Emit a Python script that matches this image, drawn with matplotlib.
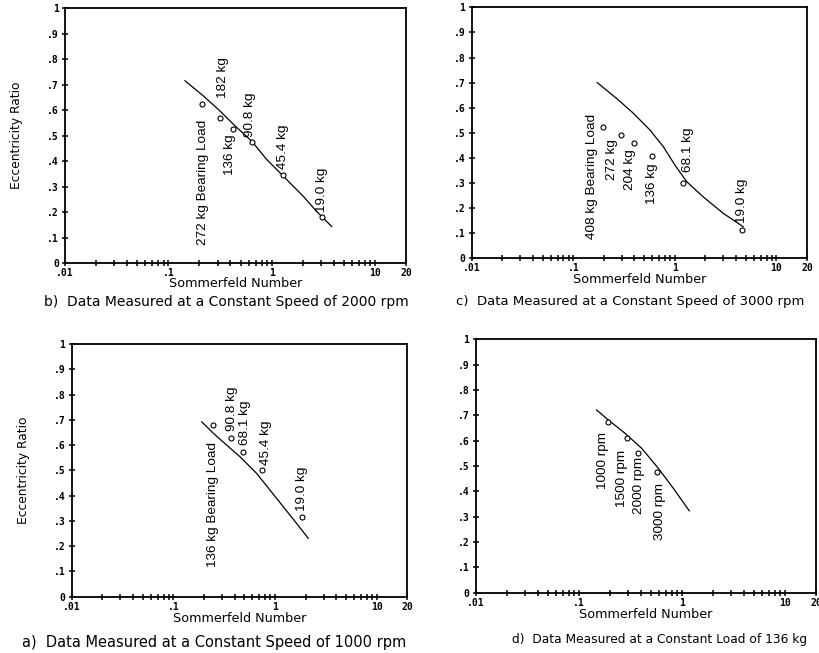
import numpy as np
import matplotlib.pyplot as plt

# Eccentricity ratio vs Sommerfeld number, journal bearing test data

# a) constant speed 1000 rpm
a_labels = ['136 kg Bearing Load', '90.8 kg', '68.1 kg', '45.4 kg', '19.0 kg']
a_S = [0.243, 0.366, 0.48, 0.738, 1.83]
a_ecc = [0.679, 0.627, 0.574, 0.501, 0.314]
a_curve_S = [0.19, 0.247, 0.334, 0.452, 0.659, 0.892, 1.205, 1.63, 2.12]
a_curve_ecc = [0.692, 0.647, 0.600, 0.554, 0.488, 0.422, 0.356, 0.290, 0.231]

# b) constant speed 2000 rpm
b_labels = ['272 kg Bearing Load', '182 kg', '136 kg', '90.8 kg', '45.4 kg', '19.0 kg']
b_S = [0.21, 0.32, 0.42, 0.641, 1.30, 3.05]
b_ecc = [0.623, 0.571, 0.525, 0.475, 0.344, 0.183]
b_curve_S = [0.145, 0.218, 0.316, 0.443, 0.641, 0.895, 1.30, 2.03, 2.73, 3.82]
b_curve_ecc = [0.715, 0.656, 0.597, 0.538, 0.479, 0.407, 0.341, 0.262, 0.203, 0.144]

# c) constant speed 3000 rpm
c_labels = ['408 kg Bearing Load', '272 kg', '204 kg', '136 kg', '68.1 kg', '19.0 kg']
c_S = [0.194, 0.292, 0.396, 0.595, 1.19, 4.54]
c_ecc = [0.525, 0.493, 0.461, 0.406, 0.299, 0.113]
c_curve_S = [0.172, 0.267, 0.39, 0.569, 0.769, 1.0, 1.31, 1.9, 3.0, 4.71]
c_curve_ecc = [0.700, 0.637, 0.578, 0.511, 0.445, 0.372, 0.305, 0.245, 0.179, 0.126]

# d) constant load 136 kg
d_labels = ['1000 rpm', '1500 rpm', '2000 rpm', '3000 rpm']
d_S = [0.19, 0.292, 0.378, 0.57]
d_ecc = [0.675, 0.612, 0.550, 0.478]
d_curve_S = [0.149, 0.193, 0.281, 0.407, 0.591, 0.826, 1.18]
d_curve_ecc = [0.721, 0.682, 0.629, 0.570, 0.491, 0.412, 0.323]

xtick_vals = [0.01, 0.1, 1, 10, 20]
xtick_text = ['.01', '.1', '1', '10', '20']
ytick_vals = [0, .1, .2, .3, .4, .5, .6, .7, .8, .9, 1]
ytick_text = ['0', '.1', '.2', '.3', '.4', '.5', '.6', '.7', '.8', '.9', '1']

W, H = 819, 653
fig = plt.figure(figsize=(W / 100, H / 100), dpi=100)
fig.patch.set_facecolor('white')

LABEL_FONT = 'Liberation Sans'
TEXT_FONT = 'DejaVu Sans'


def px_axes(left, right, top, bottom):
    return fig.add_axes([left / W, 1 - bottom / H, (right - left) / W, (bottom - top) / H])


def setup(ax, xlab_y, ylabel=True):
    ax.set_xscale('log')
    ax.set_xlim(0.01, 20)
    ax.set_ylim(0, 1)
    for s in ax.spines.values():
        s.set_linewidth(1.3)
    ax.set_xticks(xtick_vals)
    ax.set_xticklabels(xtick_text)
    minors = [m * d for d in (0.01, 0.1, 1) for m in range(2, 10)]
    ax.set_xticks(minors, minor=True)
    ax.set_yticks(ytick_vals)
    ax.set_yticklabels(ytick_text)
    ax.tick_params(which='both', direction='inout', length=5, width=1.1, pad=2,
                   labelsize=7)
    ax.tick_params(axis='x', which='both', pad=1)
    for lab in ax.get_xticklabels() + ax.get_yticklabels():
        lab.set_family('DejaVu Sans Mono')
        lab.set_weight('bold')
    ax.set_xlabel('Sommerfeld Number', family=TEXT_FONT, fontsize=9.2, va='center')
    ax.xaxis.set_label_coords(0.5, xlab_y)
    if ylabel:
        ax.set_ylabel('Eccentricity Ratio', family=TEXT_FONT, fontsize=8.8,
                      labelpad=17)


def draw(ax, cs, ce, S, e, labels, offsets):
    ax.plot(cs, ce, color='black', lw=0.9)
    ax.plot(S, e, 'o', mfc='white', mec='black', ms=3.6, mew=0.8)
    for x, y, t, (dx, dy, va) in zip(S, e, labels, offsets):
        ax.annotate(t, (x, y), xytext=(dx, dy), textcoords='offset pixels',
                    rotation=90, ha='center', va=va, family=LABEL_FONT,
                    fontsize=9.7)


# label placement (pixel offsets from each data point)
b_off = [(1, -16, 'top'), (3, 20, 'bottom'), (-3, -5, 'top'), (-2, 5, 'bottom'),
         (0, 6, 'bottom'), (0, 5, 'bottom')]
c_off = [(-11, 13, 'top'), (-9, -5, 'top'), (-4, -7, 'top'), (0, -7, 'top'),
         (5, 11, 'bottom'), (0, 7, 'bottom')]
a_off = [(0, -17, 'top'), (1, 7, 'bottom'), (2, 7, 'bottom'), (4, 5, 'bottom'),
         (0, 6, 'bottom')]
d_off = [(-5, -10, 'top'), (-5, -12, 'top'), (1, -4, 'top'), (3, -11, 'top')]

ax_b = px_axes(65, 406, 8, 263.3)
setup(ax_b, -0.078)
draw(ax_b, b_curve_S, b_curve_ecc, b_S, b_ecc, b_labels, b_off)

ax_c = px_axes(471.7, 807, 7.3, 258.3)
setup(ax_c, -0.085, ylabel=False)
draw(ax_c, c_curve_S, c_curve_ecc, c_S, c_ecc, c_labels, c_off)

ax_a = px_axes(71.7, 407.3, 344, 596.7)
setup(ax_a, -0.088)
draw(ax_a, a_curve_S, a_curve_ecc, a_S, a_ecc, a_labels, a_off)

ax_d = px_axes(475.7, 816, 339.3, 592.7)
setup(ax_d, -0.085, ylabel=False)
draw(ax_d, d_curve_S, d_curve_ecc, d_S, d_ecc, d_labels, d_off)

captions = [
    (226, 302, 'b)  Data Measured at a Constant Speed of 2000 rpm', 10.0),
    (630, 302, 'c)  Data Measured at a Constant Speed of 3000 rpm', 9.5),
    (214, 642, 'a)  Data Measured at a Constant Speed of 1000 rpm', 10.5),
    (660, 640, 'd)  Data Measured at a Constant Load of 136 kg', 8.8),
]
for x, y, t, fs in captions:
    fig.text(x / W, 1 - y / H, t, ha='center', va='center', family=TEXT_FONT,
             fontsize=fs)

fig.savefig('out.png', dpi=100, facecolor='white')
